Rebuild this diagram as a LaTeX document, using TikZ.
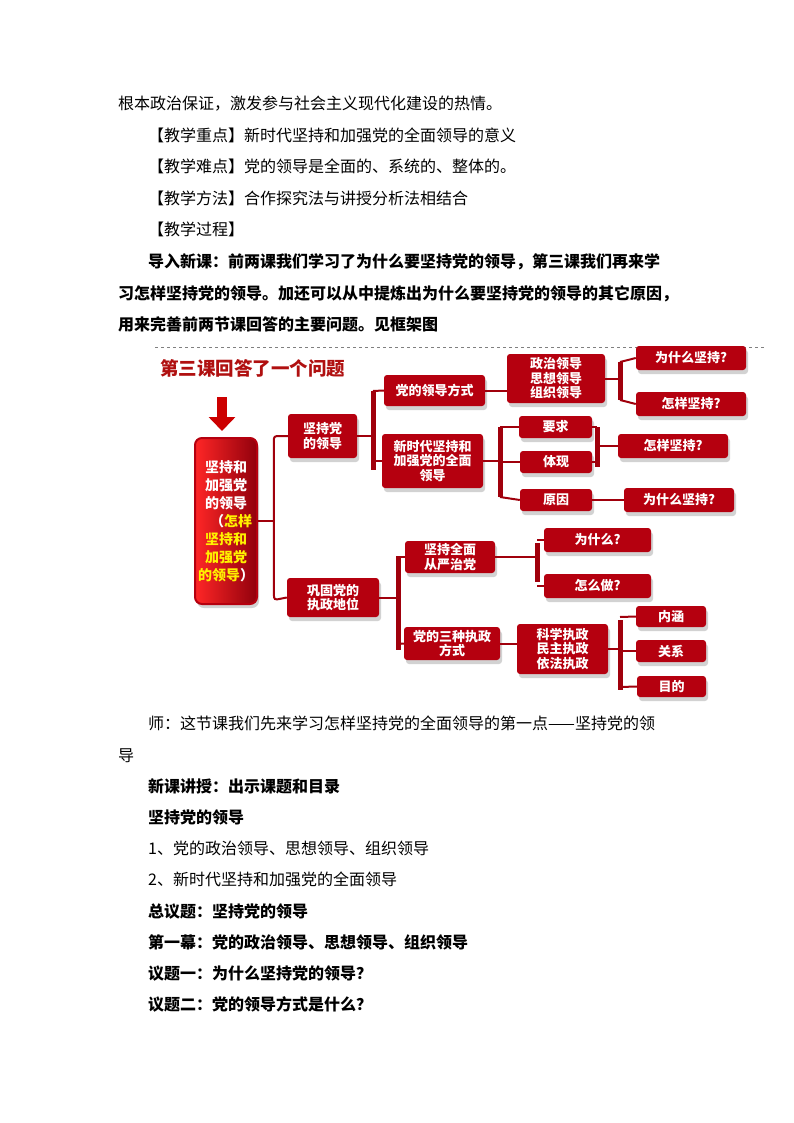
\documentclass[tikz,border=0pt]{standalone}
\usepackage{fontspec}
\setmainfont{Noto Sans CJK SC}
\usetikzlibrary{shadows,calc,arrows.meta}
\definecolor{boxred}{HTML}{B5000F}
\definecolor{barred}{HTML}{A0000C}
\definecolor{titred}{HTML}{B01010}
\begin{document}
\begin{tikzpicture}[x=1pt,y=-1pt,
  body/.style={anchor=base west,inner sep=0pt,font=\fontsize{16}{16}\selectfont},
  bbody/.style={body,font=\fontsize{16}{16}\selectfont\bfseries},
  box/.style={rounded corners=3pt,fill=boxred,text=white,align=center,inner sep=1pt,
    font=\bfseries\fontsize{13}{14.5}\selectfont,drop shadow={shadow xshift=2pt,shadow yshift=-4pt,opacity=0.35}},
  bar/.style={barred,line width=5pt},
  conn/.style={barred,line width=2pt}]
\useasboundingbox (0,0) rectangle (794,1123);
\fill[white] (0,0) rectangle (794,1123);
\newcommand\bx[6]{\node[box,minimum width={(#4-#2)*1pt},minimum height={(#5-#3)*1pt}] (#1) at ({(#2+#4)/2},{(#3+#5)/2}) {#6};}
% text above
\node[body] (t1) at (118,110) {根本政治保证，激发参与社会主义现代化建设的热情。};
\node[body] (t2) at (148,142) {【教学重点】新时代坚持和加强党的全面领导的意义};
\node[body] (t3) at (148,173) {【教学难点】党的领导是全面的、系统的、整体的。};
\node[body] (t4) at (148,205) {【教学方法】合作探究法与讲授分析法相结合};
\node[body] (t5) at (148,236) {【教学过程】};
\node[bbody] (t6) at (148,267) {导入新课：前两课我们学习了为什么要坚持党的领导，第三课我们再来学};
\node[bbody] (t7) at (118,299) {习怎样坚持党的领导。加还可以从中提炼出为什么要坚持党的领导的其它原因，};
\node[bbody] (t8) at (118,330) {用来完善前两节课回答的主要问题。见框架图};
% diagram
\draw[gray,dashed,line width=0.5pt] (155,347) -- (765,347);
\node[anchor=west,inner sep=0pt,text=titred,font=\bfseries\fontsize{18.5}{18.5}\selectfont] (title) at (160,368) {第三课回答了一个问题};
\coordinate (ar1) at (222,397); \coordinate (ar2) at (222,431);
\draw[-{Triangle[width=26pt,length=14pt]},line width=10pt,red!80!black] (ar1) -- (ar2);
\node[rounded corners=7pt,draw=boxred,line width=2pt,left color=red!85!white,right color=boxred!80!black,
  minimum width=62pt,minimum height=166pt,align=center,text=white,inner sep=0pt,
  font=\bfseries\fontsize{14}{18}\selectfont,drop shadow={shadow xshift=2pt,shadow yshift=-4pt,opacity=0.35}]
  (main) at (226,521) {坚持和\\加强党\\的领导\\\hspace*{10pt}（\textcolor{yellow}{怎样}\\\textcolor{yellow}{坚持和}\\\textcolor{yellow}{加强党}\\\textcolor{yellow}{的领导}）};
\bx{a}{288}{414}{357}{458}{坚持党\\的领导}
\bx{b}{287}{578}{379}{617}{巩固党的\\执政地位}
\bx{a1}{384}{375}{485}{406}{党的领导方式}
\bx{a2}{382}{434}{483}{488}{新时代坚持和\\加强党的全面\\领导}
\bx{a11}{507}{354}{605}{403}{政治领导\\思想领导\\组织领导}
\bx{q1}{636}{346}{746}{370}{为什么坚持?}
\bx{q2}{636}{392}{746}{416}{怎样坚持?}
\bx{r1}{519}{416}{592}{438}{要求}
\bx{r2}{520}{451}{592}{473}{体现}
\bx{r3}{520}{489}{592}{511}{原因}
\bx{q3}{618}{434}{728}{458}{怎样坚持?}
\bx{q4}{624}{488}{734}{512}{为什么坚持?}
\bx{b1}{405}{541}{495}{573}{坚持全面\\从严治党}
\bx{b2}{404}{627}{500}{660}{党的三种执政\\方式}
\bx{s1}{544}{528}{651}{552}{为什么?}
\bx{s2}{544}{574}{651}{598}{怎么做?}
\bx{b21}{517}{624}{608}{674}{科学执政\\民主执政\\依法执政}
\bx{u1}{636}{606}{706}{627}{内涵}
\bx{u2}{636}{640}{706}{662}{关系}
\bx{u3}{637}{676}{706}{697}{目的}
% connectors
\draw[conn] (main.east) -- ++(15,0);
\draw[conn,rounded corners=3pt] (a.west) -- ++(-14,0) -- (274,600) -- (b.west);
\draw[conn] (a.east) -- (a.east -| 373,0);
\draw[bar] (373,391) -- (373,470);
\draw[conn] (373,391) -- (a1.west); \draw[conn] (373,461) -- (a2.west);
\draw[conn] (a1.east) -- (a1.east -| a11.west);
\draw[conn] (a11.east) -- (a11.east -| 620,0);
\draw[bar] (620,362) -- (620,400);
\draw[conn] (620,362) -- (q1.west); \draw[conn] (620,400) -- (q2.west);
\draw[conn] (a2.east) -- (a2.east -| 500,0);
\draw[bar] (500,427) -- (500,497);
\draw[conn] (500,427) -- (r1.west); \draw[conn] (500,462) -- (r2.west); \draw[conn] (500,497) -- (r3.west);
\draw[bar] (597,427) -- (597,467);
\draw[conn] (r1.east) -- (597,427); \draw[conn] (r2.east) -- (597,462);
\draw[conn] (597,446) -- (q3.west);
\draw[conn] (r3.east) -- (q4.west);
\draw[conn] (b.east) -- (b.east -| 398,0);
\draw[bar] (398,556) -- (398,650);
\draw[conn] (398,557) -- (b1.west); \draw[conn] (398,644) -- (b2.west);
\draw[conn] (b1.east) -- (b1.east -| 537,0);
\draw[bar] (537,543) -- (537,582);
\draw[conn] (537,540) -- (s1.west); \draw[conn] (537,586) -- (s2.west);
\draw[conn] (b2.east) -- (b2.east -| b21.west);
\draw[conn] (b21.east) -- (b21.east -| 620,0);
\draw[bar] (620,620) -- (620,690);
\draw[conn] (620,617) -- (u1.west); \draw[conn] (620,651) -- (u2.west); \draw[conn] (620,687) -- (u3.west);
% text below
\node[body] (t9) at (148,729) {师：这节课我们先来学习怎样坚持党的全面领导的第一点——坚持党的领};
\node[body] (t10) at (118,761) {导};
\node[bbody] (t11) at (148,792) {新课讲授：出示课题和目录};
\node[bbody] (t12) at (148,823) {坚持党的领导};
\node[body] (t13) at (148,854) {1、党的政治领导、思想领导、组织领导};
\node[body] (t14) at (148,885) {2、新时代坚持和加强党的全面领导};
\node[bbody] (t15) at (148,917) {总议题：坚持党的领导};
\node[bbody] (t16) at (148,948) {第一幕：党的政治领导、思想领导、组织领导};
\node[bbody] (t17) at (148,979) {议题一：为什么坚持党的领导？};
\node[bbody] (t18) at (148,1010) {议题二：党的领导方式是什么？};
\end{tikzpicture}
\end{document}
